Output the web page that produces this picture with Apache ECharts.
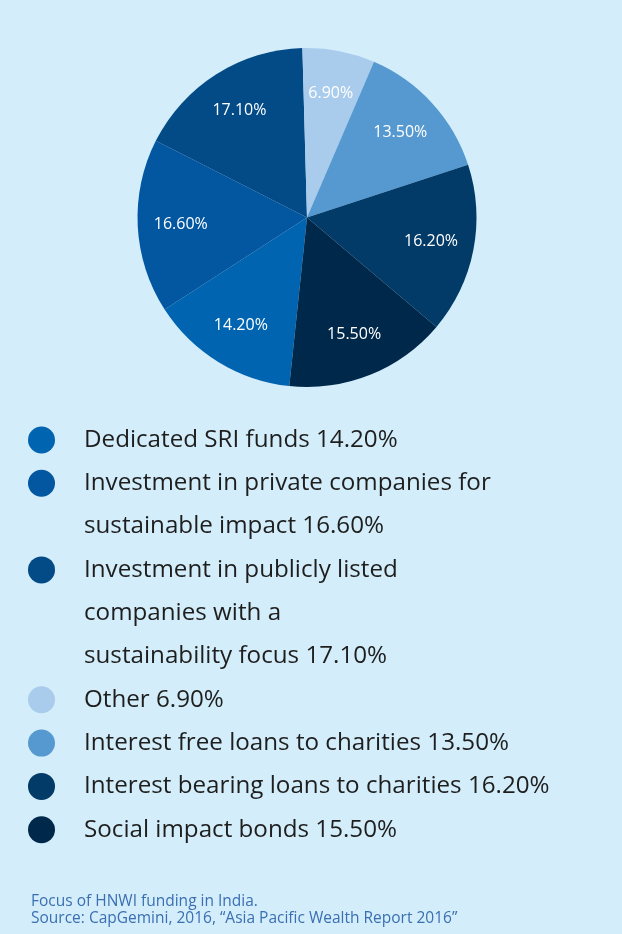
<!DOCTYPE html>
<html><head><meta charset="utf-8">
<script src="https://cdn.jsdelivr.net/npm/echarts@6/dist/echarts.min.js"></script>
<style>html,body{margin:0;padding:0;background:#d3eefa}#c{width:622px;height:934px}</style>
</head><body><div id="c"></div>
<script>
const categories = ['Dedicated SRI funds', 'Investment in private companies for sustainable impact', 'Investment in publicly listed companies with a sustainability focus', 'Other', 'Interest free loans to charities', 'Interest bearing loans to charities', 'Social impact bonds'];
const legendLabels = ['Dedicated SRI funds', 'Investment in private companies for\nsustainable impact', 'Investment in publicly listed\ncompanies with a\nsustainability focus', 'Other', 'Interest free loans to charities', 'Interest bearing loans to charities', 'Social impact bonds'];
const values = [14.2, 16.6, 17.1, 6.9, 13.5, 16.2, 15.5];
const colors = ['#0064b1', '#0257a0', '#034b87', '#a9cbec', '#5599d0', '#023a68', '#00284a'];
const footnote = 'Focus of HNWI funding in India.\nSource: CapGemini, 2016, \u201cAsia Pacific Wealth Report 2016\u201d';

const chart = echarts.init(document.getElementById('c'), null, {renderer: 'canvas'});
const CX = 307, CY = 217.5, R = 169.5;
const LH = 43.3, FIRST = 440;
let line = 0;
const legends = categories.map((name, i) => {
  const n = legendLabels[i].split('\n').length;
  const iconY = FIRST + line * LH;
  const boxH = (2 * n - 1) * LH;
  line += n;
  return {
    left: 28, top: iconY - boxH / 2, orient: 'vertical', padding: 0,
    data: [name], icon: 'circle', itemWidth: 27, itemHeight: 27,
    formatter: () => '\n'.repeat(n - 1) + legendLabels[i] + ' ' + values[i].toFixed(2) + '%',
    textStyle: { fontFamily: 'Open Sans', fontSize: 24.2, color: '#1e1e1e', lineHeight: LH, padding: [0, 0, 0, 24] }
  };
});
chart.setOption({
  backgroundColor: '#d3eefa',
  animation: false,
  legend: legends,
  graphic: [{ type: 'text', left: 31, top: 893, style: { text: footnote, fill: '#3b6fb2', font: '15.5px "Open Sans"', lineHeight: 17.3 } }],
  series: [{
    type: 'pie', center: [CX, CY], radius: R, startAngle: 264, clockwise: true,
    data: categories.map((name, i) => ({ name, value: values[i], itemStyle: { color: colors[i] } })),
    label: { position: 'inside', color: '#ffffff', fontFamily: 'Open Sans', fontSize: 16, formatter: p => p.value.toFixed(2) + '%' },
    labelLine: { show: false },
    labelLayout: function (p) {
      const r = p.labelRect;
      const lx = r.x + r.width / 2, ly = r.y + r.height / 2;
      const k = 1.44;
      return { x: CX + (lx - CX) * k, y: CY + (ly - CY) * k };
    },
    emphasis: { scale: false }
  }]
});
</script></body></html>
